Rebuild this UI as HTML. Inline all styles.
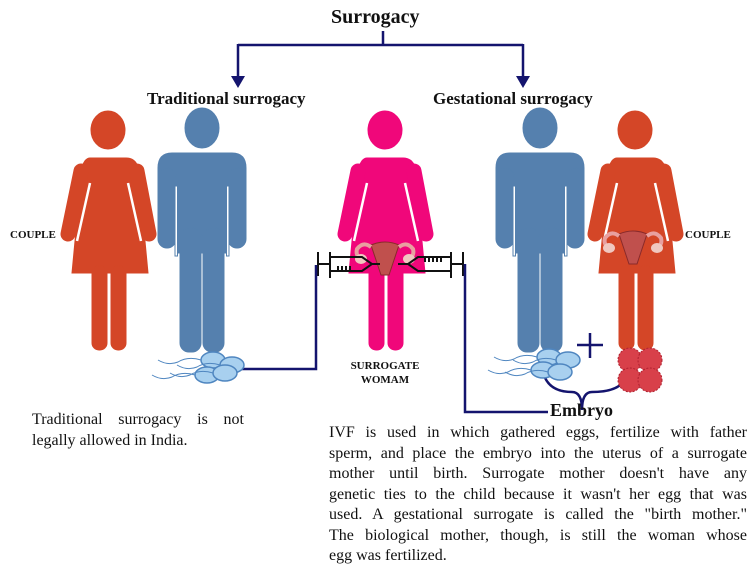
<!DOCTYPE html>
<html><head><meta charset="utf-8"><style>
html,body{margin:0;padding:0;background:#fff;}
body{width:753px;height:569px;overflow:hidden;position:relative;font-family:"Liberation Serif",serif;}
.t{position:absolute;color:#111;}
.j div{text-align:justify;text-align-last:justify;white-space:nowrap;}
.j div.l{text-align-last:left;}
</style></head><body>
<svg width="753" height="569" style="position:absolute;left:0;top:0">
<defs>
<g id="woman">
 <ellipse cx="0" cy="19" rx="17" ry="19"/>
 <path d="M-18,47 L18,47 Q27,47 30,56 L40,162 L-36,162 L-26,56 Q-23,47 -18,47 Z"/>
 <line x1="-27" y1="60" x2="-40" y2="123" stroke-width="15" stroke-linecap="round"/>
 <line x1="29" y1="60" x2="41" y2="123" stroke-width="15" stroke-linecap="round"/>
 <line x1="-18" y1="72" x2="-31" y2="130" stroke="#fff" stroke-width="2.5"/>
 <line x1="20" y1="72" x2="33" y2="130" stroke="#fff" stroke-width="2.5"/>
 <rect x="-16" y="155" width="15" height="84" rx="7"/>
 <rect x="3" y="155" width="15" height="84" rx="7"/>
</g>
<g id="man">
 <ellipse cx="0" cy="20" rx="17" ry="20"/>
 <path d="M-30,45 L30,45 Q44,45 44,60 L44,80 L-44,80 L-44,60 Q-44,45 -30,45 Z"/>
 <rect x="-44" y="60" width="18" height="80" rx="9"/>
 <rect x="26" y="60" width="18" height="80" rx="9"/>
 <rect x="-24" y="50" width="48" height="95"/>
 <rect x="-22" y="120" width="21" height="124" rx="9"/>
 <rect x="1" y="120" width="21" height="124" rx="9"/>
 <rect x="-27" y="78" width="2.5" height="70" fill="#fff"/>
 <rect x="24.5" y="78" width="2.5" height="70" fill="#fff"/>
</g>
<g id="sperm" fill="#a8d0ef" stroke="#4f86c0" stroke-width="1.5">
 <ellipse cx="0" cy="0" rx="12" ry="8"/>
 <path d="M-12,0 Q-25,-4 -35,2 Q-45,6 -55,0" fill="none" stroke-width="1"/>
</g>
<g id="uterus">
 <path d="M-14,-10 Q0,-16 14,-10 L8,8 L4,20 L-4,20 L-8,8 Z" fill="#c0504d" stroke="#8a2a2a"/>
 <path d="M-14,-8 Q-22,-14 -28,-6 Q-30,2 -22,4" fill="none" stroke="#e8a0a0" stroke-width="4"/>
 <path d="M14,-8 Q22,-14 28,-6 Q30,2 22,4" fill="none" stroke="#e8a0a0" stroke-width="4"/>
 <ellipse cx="-24" cy="4" rx="6" ry="5" fill="#f0c8c0"/>
 <ellipse cx="24" cy="4" rx="6" ry="5" fill="#f0c8c0"/>
</g>
</defs>
<g stroke="#14146e" stroke-width="2.5" fill="none">
 <path d="M383,31 V45 M238,45 H523 M238,44 V82 M523,44 V82"/>
</g>
<path d="M231,76 L238,88 L245,76 Z M516,76 L523,88 L530,76 Z" fill="#14146e"/>
<use href="#woman" x="108" y="111" fill="#d44627" stroke="#d44627"/>
<use href="#man" x="202" y="108" fill="#5580ae" stroke="#5580ae"/>
<use href="#woman" x="385" y="111" fill="#f0077a" stroke="#f0077a"/>
<use href="#man" x="540" y="108" fill="#5580ae" stroke="#5580ae"/>
<use href="#woman" x="635" y="111" fill="#d44627" stroke="#d44627"/>
<use href="#uterus" x="385" y="255"/>
<use href="#uterus" x="633" y="244"/>
<g stroke="#111" stroke-width="2" fill="none">
 <path d="M318,252 V276 M318,264 H330 M330,252 V278 M330,257 H362 L372,264 L362,271 H330 M372,264 H380"/>
 <path d="M338,271 V266 M342,271 V266 M346,271 V266 M350,271 V266"/>
 <path d="M463,252 V276 M463,264 H451 M451,252 V278 M451,257 H418 L408,264 L418,271 H451 M408,264 H398"/>
 <path d="M425,257 V262 M429,257 V262 M433,257 V262 M437,257 V262 M441,257 V262"/>
</g>
<g stroke="#14146e" stroke-width="2.5" fill="none">
 <path d="M240,369 H316 V265"/>
 <path d="M465,264 V412 H548"/>
 <path d="M543,372 Q548,392 572,392 Q582,392 582,410 Q582,392 592,392 Q625,392 627,372"/>
 <path d="M577,345 H603 M590,333 V358"/>
</g>
<use href="#sperm" x="213" y="360"/><use href="#sperm" x="232" y="365"/>
<use href="#sperm" x="207" y="375"/><use href="#sperm" x="225" y="373"/>
<use href="#sperm" x="549" y="357"/><use href="#sperm" x="568" y="360"/>
<use href="#sperm" x="543" y="370"/><use href="#sperm" x="560" y="372"/>
<g fill="#d8404a" stroke="#b02030" stroke-dasharray="2 1.5">
 <circle cx="630" cy="360" r="12"/><circle cx="650" cy="360" r="12"/>
 <circle cx="630" cy="380" r="12"/><circle cx="650" cy="380" r="12"/>
</g>
</svg>
<div class="t" style="left:331px;top:6px;font-size:20px;font-weight:bold;">Surrogacy</div>
<div class="t" style="left:147px;top:89px;font-size:17px;font-weight:bold;">Traditional surrogacy</div>
<div class="t" style="left:433px;top:89px;font-size:17px;font-weight:bold;">Gestational surrogacy</div>
<div class="t" style="left:10px;top:229px;font-size:11px;font-weight:bold;">COUPLE</div>
<div class="t" style="left:685px;top:229px;font-size:11px;font-weight:bold;">COUPLE</div>
<div class="t" style="left:345px;top:359px;font-size:11px;font-weight:bold;text-align:center;line-height:14px;width:80px;">SURROGATE<br>WOMAM</div>
<div class="t" style="left:550px;top:400px;font-size:18px;font-weight:bold;">Embryo</div>
<div class="t j" style="left:32px;top:409px;font-size:16px;line-height:21px;width:212px;">
<div>Traditional surrogacy is not</div>
<div class="l">legally allowed in India.</div>
</div>
<div class="t j" style="left:329px;top:423px;font-size:16px;line-height:20.5px;width:418px;">
<div>IVF is used in which gathered eggs, fertilize with father</div>
<div>sperm, and place the embryo into the uterus of a surrogate</div>
<div>mother until birth. Surrogate mother doesn't have any</div>
<div>genetic ties to the child because it wasn't her egg that was</div>
<div>used. A gestational surrogate is called the "birth mother."</div>
<div>The biological mother, though, is still the woman whose</div>
<div class="l">egg was fertilized.</div>
</div>
</body></html>
